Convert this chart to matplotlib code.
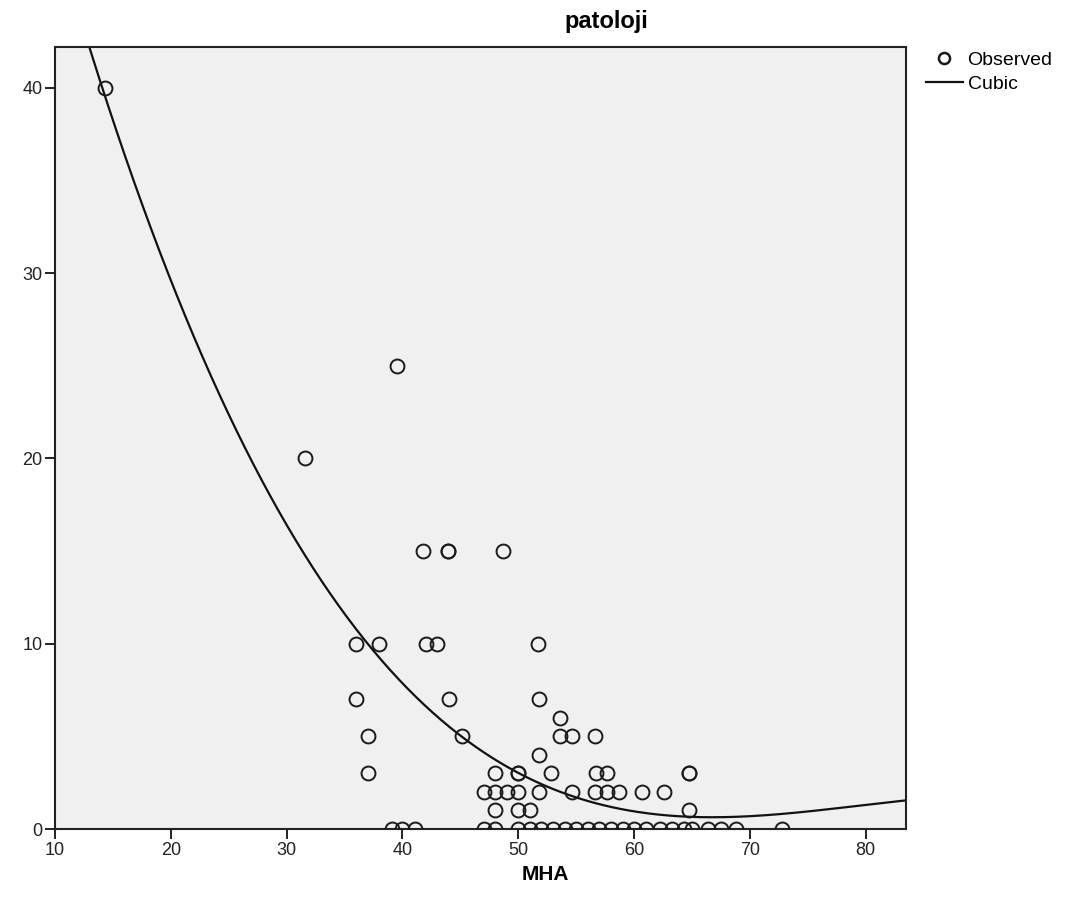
import numpy as np
import matplotlib
matplotlib.use("Agg")
import matplotlib.pyplot as plt
from matplotlib.lines import Line2D

plt.rcParams['font.family'] = ['Liberation Sans', 'DejaVu Sans']

# observed points (MHA, patoloji)
mha = [14.3, 31.6, 39.5,
       41.8, 43.9, 43.9, 48.7,
       36.0, 38.0, 42.0, 43.0, 51.7,
       36.0, 44.0, 51.8,
       53.6,
       37.0, 45.1, 53.6, 54.6, 56.6,
       51.8,
       37.0, 48.0, 50.0, 50.0, 52.8, 56.7, 57.7, 64.7, 64.7,
       47.0, 48.0, 49.0, 50.0, 51.8, 54.6, 56.6, 57.7, 58.7, 60.7, 62.6,
       48.0, 50.0, 51.0, 64.7,
       39.1, 40.0, 41.1, 47.0, 48.0, 50.0, 51.0, 52.0, 53.0, 54.0, 55.0,
       56.0, 57.0, 58.0, 59.0, 60.0, 61.0, 62.2, 63.3, 64.3, 65.0, 66.4,
       67.5, 68.8, 72.8]
patoloji = [40, 20, 25,
            15, 15, 15, 15,
            10, 10, 10, 10, 10,
            7, 7, 7,
            6,
            5, 5, 5, 5, 5,
            4,
            3, 3, 3, 3, 3, 3, 3, 3, 3,
            2, 2, 2, 2, 2, 2, 2, 2, 2, 2, 2,
            1, 1, 1, 1,
            0, 0, 0, 0, 0, 0, 0, 0, 0, 0, 0,
            0, 0, 0, 0, 0, 0, 0, 0, 0, 0, 0,
            0, 0, 0]

# points on the drawn cubic curve
curve_x = [14.3, 19.5, 26.4, 33.8, 37.7, 45.1, 50.0, 59.7, 65.7, 83.5]
curve_y = [40.0, 30.0, 20.0, 13.1, 9.7, 5.15, 3.0, 0.76, 0.6, 1.6]

x_ticks = [10, 20, 30, 40, 50, 60, 70, 80]
y_ticks = [0, 10, 20, 30, 40]

fig = plt.figure(figsize=(10.65, 9.13), dpi=100)
ax = fig.add_axes([0.0516, 0.092, 0.7994, 0.8565])
ax.set_facecolor('#f0f0f0')

xmin, xmax = 10, 83.5
coef = np.polyfit(curve_x, curve_y, 3)
xs = np.linspace(xmin, xmax, 400)
ax.plot(xs, np.polyval(coef, xs), color='#111111', lw=1.6, zorder=2)

ax.plot(mha, patoloji, 'o', ms=10, mfc='none', mec='#1a1a1a', mew=1.4,
        zorder=3, clip_on=True)

ax.set_xlim(xmin, xmax)
ax.set_ylim(0, 42.2)
ax.set_xticks(x_ticks)
ax.set_yticks(y_ticks)
ax.tick_params(direction='out', length=7, width=1.4, labelsize=13,
               colors='#222222', pad=2)
for s in ax.spines.values():
    s.set_linewidth(1.5)
    s.set_color('#222222')

# title and axis label sit off-centre in the scan
fig.text(0.569, 0.976, 'patoloji', fontsize=17, fontweight='bold',
         ha='center', va='center')
fig.text(0.512, 0.042, 'MHA', fontsize=15, fontweight='bold',
         ha='center', va='center')

handles = [Line2D([], [], ls='none', marker='o', ms=8, mfc='none',
                  mec='#1a1a1a', mew=1.8),
           Line2D([], [], color='#111111', lw=1.6)]
fig.legend(handles, ['Observed', 'Cubic'], loc='upper left',
           bbox_to_anchor=(0.862, 0.952), frameon=False, fontsize=14,
           handlelength=1.9, handletextpad=0.25, labelspacing=0.3,
           borderaxespad=0)

fig.savefig('out.png', dpi=100)
